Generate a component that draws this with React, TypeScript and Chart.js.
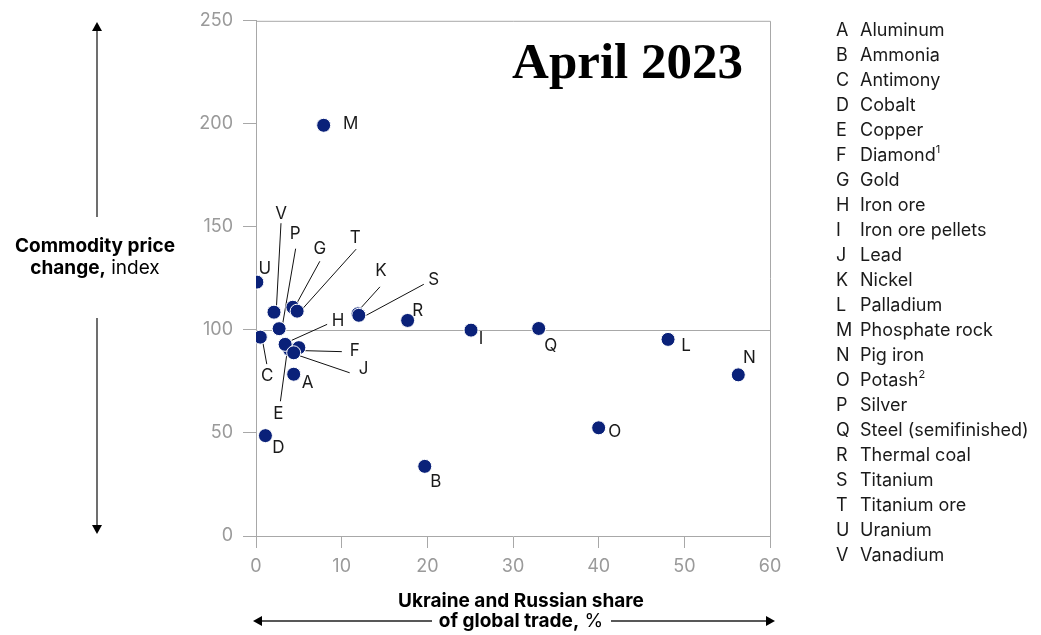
import React, { useEffect, useRef } from "react";
import { Chart, registerables } from "chart.js";

Chart.register(...registerables);

// Commodities, their footnote markers and the two measures plotted
const letters = ["A", "B", "C", "D", "E", "F", "G", "H", "I", "J", "K", "L", "M", "N", "O", "P", "Q", "R", "S", "T", "U", "V"];
const names = [
  "Aluminum", "Ammonia", "Antimony", "Cobalt", "Copper", "Diamond", "Gold", "Iron ore",
  "Iron ore pellets", "Lead", "Nickel", "Palladium", "Phosphate rock", "Pig iron", "Potash",
  "Silver", "Steel (semifinished)", "Thermal coal", "Titanium", "Titanium ore", "Uranium", "Vanadium",
];
const footnotes = ["", "", "", "", "", "1", "", "", "", "", "", "", "", "", "2", "", "", "", "", "", "", ""];
// Ukraine and Russian share of global trade, %
const tradeShare = [4.4, 19.7, 0.5, 1.1, 3.9, 5.0, 4.3, 3.4, 25.1, 4.4, 11.9, 48.1, 7.9, 56.3, 40.0, 2.7, 33.0, 17.7, 12.0, 4.8, 0.1, 2.1];
// Commodity price change, index
const priceIndex = [78.5, 33.8, 96.5, 48.7, 90.6, 91.4, 111.0, 93.0, 99.9, 88.9, 107.8, 95.4, 199.3, 78.2, 52.5, 100.6, 100.7, 104.6, 107.1, 109.1, 123.2, 108.6];

const xTicks = [0, 10, 20, 30, 40, 50, 60];
const yTicks = [0, 50, 100, 150, 200, 250];
const baselineIndex = 100;
const title = "April 2023";

// Label placement around each marker (pixel offsets from the marker centre),
// with optional leader line [x1, y1, x2, y2]
const labelLayout: Record<string, { dx: number; dy: number; line?: number[] }> = {
  A: { dx: 14, dy: 9 },
  B: { dx: 11, dy: 16 },
  C: { dx: 7, dy: 39, line: [6.5, 27, 2.7, 6] },
  D: { dx: 13, dy: 12 },
  E: { dx: -11, dy: 65, line: [-9, 52, -2.6, 5] },
  F: { dx: 56, dy: 3, line: [43, 4, 5, 3] },
  G: { dx: 27, dy: -58, line: [27, -46, 4, -4] },
  H: { dx: 53, dy: -23, line: [42, -20, 6.5, -4] },
  I: { dx: 10, dy: 9 },
  J: { dx: 70, dy: 16, line: [56, 20, 6, 3] },
  K: { dx: 23, dy: -43, line: [22, -27, 3, -6] },
  L: { dx: 18, dy: 6 },
  M: { dx: 27, dy: -1 },
  N: { dx: 11, dy: -17 },
  O: { dx: 16, dy: 4 },
  P: { dx: 16, dy: -95, line: [16.5, -80, 3.4, -4] },
  Q: { dx: 12, dy: 17 },
  R: { dx: 10, dy: -10 },
  S: { dx: 75, dy: -35, line: [65, -31, 7.5, 0] },
  T: { dx: 58, dy: -73, line: [59, -62, 6, -3] },
  U: { dx: 8, dy: -13 },
  V: { dx: 7, dy: -98, line: [7, -89, 2.4, -4] },
};

const SANS = "Inter, 'Liberation Sans', sans-serif";
const AXIS_GREY = "#a8a8a8";
const TICK_TEXT = "#9a9a9a";
const DOT = "#0a2179";
const INK = "#1a1a1a";

function arrow(ctx: CanvasRenderingContext2D, x: number, y: number, dir: "up" | "down" | "left" | "right") {
  const s = 5, l = 9;
  ctx.beginPath();
  if (dir === "up") { ctx.moveTo(x, y); ctx.lineTo(x - s, y + l); ctx.lineTo(x + s, y + l); }
  if (dir === "down") { ctx.moveTo(x, y); ctx.lineTo(x - s, y - l); ctx.lineTo(x + s, y - l); }
  if (dir === "left") { ctx.moveTo(x, y); ctx.lineTo(x + l, y - s); ctx.lineTo(x + l, y + s); }
  if (dir === "right") { ctx.moveTo(x, y); ctx.lineTo(x - l, y - s); ctx.lineTo(x - l, y + s); }
  ctx.closePath();
  ctx.fill();
}

// Draw runs of [text, bold] centred on cx
function mixedCentered(ctx: CanvasRenderingContext2D, parts: [string, boolean][], cx: number, cy: number, size: number) {
  const widths = parts.map(([t, b]) => {
    ctx.font = `${b ? "bold " : ""}${size}px ${SANS}`;
    return ctx.measureText(t).width;
  });
  const total = widths.reduce((a, b) => a + b, 0);
  let x = cx - total / 2;
  ctx.textAlign = "left";
  ctx.textBaseline = "middle";
  parts.forEach(([t, b], i) => {
    ctx.font = `${b ? "bold " : ""}${size}px ${SANS}`;
    ctx.fillText(t, x, cy);
    x += widths[i];
  });
}

const decorPlugin = {
  id: "decor",
  beforeDatasetsDraw(chart: any) {
    const { ctx, chartArea } = chart;
    const yScale = chart.scales.y;
    ctx.save();
    // frame
    ctx.strokeStyle = AXIS_GREY;
    ctx.lineWidth = 1;
    ctx.beginPath();
    ctx.moveTo(chartArea.left, chartArea.top + 0.5);
    ctx.lineTo(chartArea.right + 0.5, chartArea.top + 0.5);
    ctx.lineTo(chartArea.right + 0.5, chartArea.bottom);
    ctx.stroke();
    // baseline at index 100
    const yb = Math.round(yScale.getPixelForValue(baselineIndex)) + 0.5;
    ctx.beginPath();
    ctx.moveTo(chartArea.left, yb);
    ctx.lineTo(chartArea.right, yb);
    ctx.stroke();
    // leader lines
    const meta = chart.getDatasetMeta(0);
    ctx.strokeStyle = "#111";
    ctx.lineWidth = 1;
    meta.data.forEach((pt: any, i: number) => {
      const lay = labelLayout[letters[i]];
      if (!lay || !lay.line) return;
      const [x1, y1, x2, y2] = lay.line;
      ctx.beginPath();
      ctx.moveTo(pt.x + x1, pt.y + y1);
      ctx.lineTo(pt.x + x2, pt.y + y2);
      ctx.stroke();
    });
    ctx.restore();
  },
  afterDatasetsDraw(chart: any) {
    const { ctx } = chart;
    const meta = chart.getDatasetMeta(0);
    ctx.save();
    ctx.fillStyle = INK;
    ctx.font = `17px ${SANS}`;
    ctx.textAlign = "center";
    ctx.textBaseline = "middle";
    meta.data.forEach((pt: any, i: number) => {
      const lay = labelLayout[letters[i]];
      ctx.fillText(letters[i], pt.x + lay.dx, pt.y + lay.dy);
    });

    // title
    ctx.fillStyle = "#000";
    ctx.font = `bold 51px 'Liberation Serif', serif`;
    ctx.textAlign = "right";
    ctx.textBaseline = "alphabetic";
    ctx.fillText(title, 743, 78);

    // legend
    ctx.fillStyle = INK;
    ctx.textBaseline = "middle";
    letters.forEach((l, i) => {
      const y = 31 + i * 25;
      ctx.font = `18px ${SANS}`;
      ctx.textAlign = "left";
      ctx.fillText(l, 836, y);
      ctx.fillText(names[i], 860, y);
      if (footnotes[i]) {
        const w = ctx.measureText(names[i]).width;
        ctx.font = `11px ${SANS}`;
        ctx.fillText(footnotes[i], 860 + w, y - 6);
      }
    });

    // y-axis title and arrows
    ctx.fillStyle = "#000";
    mixedCentered(ctx, [["Commodity price", true]], 95, 246, 19);
    mixedCentered(ctx, [["change,", true], [" index", false]], 95, 268, 19);
    ctx.strokeStyle = "#222";
    ctx.lineWidth = 1.3;
    ctx.beginPath();
    ctx.moveTo(97, 26); ctx.lineTo(97, 217);
    ctx.moveTo(97, 318); ctx.lineTo(97, 530);
    ctx.stroke();
    ctx.fillStyle = "#000";
    arrow(ctx, 97, 22, "up");
    arrow(ctx, 97, 534, "down");

    // x-axis title and arrows
    mixedCentered(ctx, [["Ukraine and Russian share", true]], 521, 601, 19);
    mixedCentered(ctx, [["of global trade,", true], [" %", false]], 521, 621, 19);
    ctx.beginPath();
    ctx.moveTo(257, 621); ctx.lineTo(432, 621);
    ctx.moveTo(611, 621); ctx.lineTo(771, 621);
    ctx.stroke();
    arrow(ctx, 253, 621, "left");
    arrow(ctx, 775, 621, "right");
    ctx.restore();
  },
};

export default function App() {
  const canvasRef = useRef<HTMLCanvasElement | null>(null);

  useEffect(() => {
    document.body.style.margin = "0";
    const canvas = canvasRef.current;
    if (!canvas) return;
    const points = tradeShare.map((x, i) => ({ x, y: priceIndex[i] }));
    const chart = new Chart(canvas, {
      type: "scatter",
      data: {
        datasets: [
          {
            data: points,
            pointRadius: 7,
            pointHoverRadius: 7,
            pointBackgroundColor: DOT,
            pointBorderColor: "#ffffff",
            pointBorderWidth: 1,
          },
        ],
      },
      options: {
        responsive: false,
        animation: false,
        layout: { padding: { left: 0, right: 271, top: 18, bottom: 0 } },
        plugins: { legend: { display: false }, tooltip: { enabled: false } },
        scales: {
          x: {
            type: "linear",
            min: xTicks[0],
            max: xTicks[xTicks.length - 1],
            afterBuildTicks: (scale: any) => { scale.ticks = xTicks.map((v) => ({ value: v })); },
            afterFit: (scale: any) => { scale.height = 99; },
            ticks: { color: TICK_TEXT, font: { family: SANS, size: 18 }, padding: 8 },
            grid: { drawOnChartArea: false, drawTicks: true, tickLength: 12, color: AXIS_GREY },
            border: { color: AXIS_GREY },
          },
          y: {
            type: "linear",
            min: yTicks[0],
            max: yTicks[yTicks.length - 1],
            afterBuildTicks: (scale: any) => { scale.ticks = yTicks.map((v) => ({ value: v })); },
            afterFit: (scale: any) => { scale.width = 256; },
            ticks: { color: TICK_TEXT, font: { family: SANS, size: 18 }, padding: 10 },
            grid: { drawOnChartArea: false, drawTicks: true, tickLength: 13, color: AXIS_GREY },
            border: { color: AXIS_GREY },
          },
        },
      },
      plugins: [decorPlugin],
    });
    return () => chart.destroy();
  }, []);

  return (
    <div style={{ width: 1041, height: 635, background: "#fff" }}>
      <canvas ref={canvasRef} width={1041} height={635} style={{ display: "block" }} />
    </div>
  );
}
